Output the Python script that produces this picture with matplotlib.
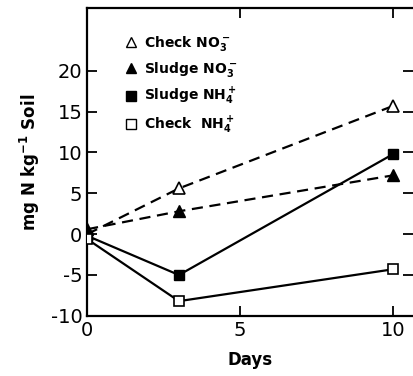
import numpy as np
import matplotlib.pyplot as plt

days = [0, 3, 10]
check_no3 = [0.0, 5.6, 15.7]
sludge_no3 = [0.6, 2.8, 7.2]
sludge_nh4 = [-0.2, -5.0, 9.8]
check_nh4 = [-0.6, -8.2, -4.3]

xticks = [0, 5, 10]
yticks = [-10, -5, 0, 5, 10, 15, 20]

plt.rcParams['font.family'] = 'DejaVu Sans'
plt.rcParams['mathtext.default'] = 'regular'
plt.rcParams['axes.unicode_minus'] = False

fig = plt.figure(figsize=(4.13, 3.76), dpi=100)
ax = fig.add_axes([0.211, 0.160, 0.789, 0.819])

dash = (0, (5, 3))
ax.plot(days, check_no3, color='black', lw=1.6, linestyle=dash, marker='^',
        markersize=8, markerfacecolor='white', markeredgewidth=1.2, label='Check NO$_3^-$', zorder=3)
ax.plot(days, sludge_no3, color='black', lw=1.6, linestyle=dash, marker='^',
        markersize=8, markerfacecolor='black', label='Sludge NO$_3^-$', zorder=3)
ax.plot(days, sludge_nh4, color='black', lw=1.6, linestyle='-', marker='s',
        markersize=7.5, markerfacecolor='black', label='Sludge NH$_4^+$', zorder=3)
ax.plot(days, check_nh4, color='black', lw=1.6, linestyle='-', marker='s',
        markersize=7.5, markerfacecolor='white', markeredgewidth=1.2, label='Check  NH$_4^+$', zorder=3)

ax.set_xlim(0, 10.65)
ax.set_ylim(-10, 27.7)
ax.set_xticks(xticks)
ax.set_yticks(yticks)
ax.tick_params(direction='in', length=7, width=1.3, labelsize=14,
               top=True, right=True)
for s in ax.spines.values():
    s.set_linewidth(1.6)
ax.spines['right'].set_visible(False)

ax.set_xlabel('Days', fontsize=12, fontweight='bold', labelpad=8)
ax.set_ylabel('mg N kg$^{-1}$ Soil', fontsize=12, fontweight='bold', labelpad=6)

h, l = ax.get_legend_handles_labels()
markers = [plt.Line2D([], [], linestyle='none', marker=hh.get_marker(),
                      markersize=7, markerfacecolor=hh.get_markerfacecolor(),
                      markeredgecolor='black') for hh in h]
leg = ax.legend(handles=markers, labels=l, loc='upper left',
                bbox_to_anchor=(0.08, 0.955), frameon=False,
                fontsize=10, handlelength=0.8, handletextpad=0.5, labelspacing=0.5)
for t in leg.get_texts():
    t.set_fontweight('bold')

fig.savefig('out.png', dpi=100)
